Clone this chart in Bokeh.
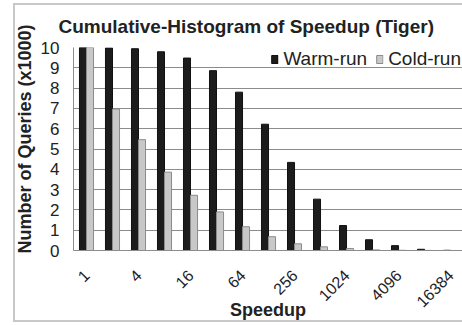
import numpy as np
from bokeh.plotting import figure
from bokeh.models import (Range1d, FixedTicker, Legend, LegendItem,
                          ColumnDataSource, Title)
from bokeh.transform import dodge
from bokeh.embed import file_html
from bokeh.resources import INLINE

categories = ["1", "2", "4", "8", "16", "32", "64", "128", "256", "512",
              "1024", "2048", "4096", "8192", "16384"]
warm_run = [10.0, 9.98, 9.94, 9.79, 9.48, 8.86, 7.8, 6.22, 4.34, 2.53,
            1.23, 0.53, 0.24, 0.06, 0.01]
cold_run = [10.0, 6.97, 5.46, 3.86, 2.72, 1.9, 1.17, 0.68, 0.33, 0.18,
            0.1, 0.03, 0.01, 0.005, 0.0]
y_ticks = list(range(0, 11))
shown_labels = ["1", "4", "16", "64", "256", "1024", "4096", "16384"]

FONT = "Liberation Sans"
TXT = "#222222"
BORDER = "#c8c8c8"
idx = np.arange(len(categories))
src = ColumnDataSource(dict(x=idx, warm=warm_run, cold=cold_run))

p = figure(width=462, height=325, output_backend="svg", toolbar_location=None,
           x_range=Range1d(-0.5, 14.46), y_range=Range1d(0, 10),
           min_border_left=73, min_border_right=0, min_border_top=47,
           min_border_bottom=75)
p.outline_line_color = None
p.background_fill_color = "white"
p.border_fill_color = None
# outer chart border (light grey frame around the chart area), drawn as CSS background
line = f"linear-gradient({BORDER},{BORDER})"
p.styles = {
    "background": (f"{line} 13px 3px / 2px 319px no-repeat, "
                   f"{line} 13px 3px / 460px 2px no-repeat, "
                   f"{line} 13px 320px / 460px 2px no-repeat, #ffffff"),
}

rw = p.vbar(x=dodge("x", -0.135), top="warm", width=0.27, source=src,
            fill_color="#1c1c1c", line_color="#111111", line_width=1)
rc = p.vbar(x=dodge("x", 0.135), top="cold", width=0.27, source=src,
            fill_color="#c8c8c8", line_color="#8c8c8c", line_width=1)

# axes
p.xaxis.ticker = FixedTicker(ticks=[categories.index(c) for c in shown_labels])
p.xaxis.major_label_overrides = {categories.index(c): c for c in shown_labels}
p.xaxis.major_label_orientation = np.pi / 4
p.xaxis.major_label_text_font = FONT
p.xaxis.major_label_text_font_size = "16px"
p.xaxis.major_label_text_color = TXT
p.xaxis.major_label_standoff = 22
p.xaxis.major_tick_out = 0
p.xaxis.major_tick_in = 0
p.xaxis.minor_tick_out = 0
p.xaxis.minor_tick_in = 0
p.xaxis.axis_line_color = "#8c8c8c"
p.xaxis.axis_label = "Speedup"
p.xaxis.axis_label_text_font = FONT
p.xaxis.axis_label_text_font_style = "bold"
p.xaxis.axis_label_text_font_size = "18px"
p.xaxis.axis_label_text_color = TXT
p.xaxis.axis_label_standoff = -15

p.yaxis.ticker = FixedTicker(ticks=y_ticks)
p.yaxis.major_label_text_font = FONT
p.yaxis.major_label_text_font_size = "17px"
p.yaxis.major_label_text_color = TXT
p.yaxis.major_label_standoff = 14
p.yaxis.major_tick_out = 0
p.yaxis.major_tick_in = 0
p.yaxis.minor_tick_out = 0
p.yaxis.minor_tick_in = 0
p.yaxis.axis_line_color = "#8c8c8c"

p.xgrid.grid_line_color = None
p.ygrid.grid_line_color = "#8c8c8c"
p.ygrid.grid_line_width = 1

# title
p.title.text = "Cumulative-Histogram of Speedup (Tiger)"
p.title.text_font = FONT
p.title.text_font_style = "bold"
p.title.text_font_size = "19px"
p.title.text_color = TXT
p.title.align = "left"
p.title.offset = -15
p.title.standoff = 21

# y-axis title in left panel
ytitle = Title(text="Number of Queries (x1000)", align="left", offset=-3,
               text_font=FONT, text_font_style="bold", text_font_size="18px",
               text_color=TXT, standoff=6)
p.add_layout(ytitle, "left")

legend = Legend(items=[LegendItem(label="Warm-run", renderers=[rw]),
                       LegendItem(label="Cold-run", renderers=[rc])],
                orientation="horizontal", location="top_right",
                label_text_font=FONT, label_text_font_size="19px",
                label_text_color=TXT, glyph_width=8, glyph_height=10,
                label_standoff=5, spacing=8, padding=1, margin=1,
                border_line_color=None, background_fill_alpha=0)
p.add_layout(legend)

open("out.html", "w").write(file_html(p, INLINE))
